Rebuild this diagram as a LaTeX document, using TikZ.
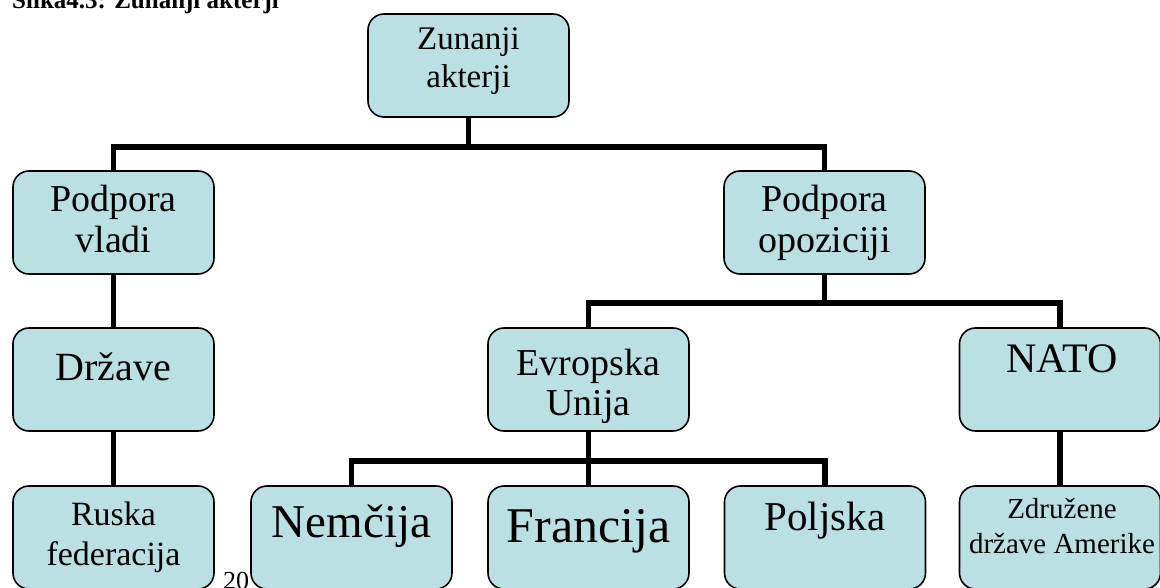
\documentclass[tikz,border=0pt]{standalone}
\usepackage{fontspec}
\setmainfont{Liberation Serif}
\usepackage{tikz}
\usetikzlibrary{positioning, calc}
\usepackage{xcolor}
\definecolor{boxblue}{RGB}{186,224,227}

\begin{document}
\begin{tikzpicture}[x=1pt, y=-1pt,
    box/.style={rectangle, rounded corners=16pt, draw=black, line width=1.6pt, fill=boxblue, minimum width=201pt, minimum height=103pt, inner sep=0pt},
    lbl/.style={anchor=base, align=center, inner sep=0pt},
    link/.style={line width=5.5pt}]
        \useasboundingbox (0,0) rectangle (1160,588);
        \node (cap) [anchor=base west, inner sep=0pt, font=\fontsize{25}{30}\selectfont\bfseries] at (12,9) {Slika4.3: Zunanji akterji};
        \node (pg) [anchor=base, inner sep=0pt, font=\fontsize{26}{30}\selectfont] at (236,589) {20};
        % okvirji
        \node (zun) [box] at (468.5,65.5) {};
        \node (vla) [box] at (113.5,222.5) {};
        \node (opo) [box] at (824.5,222.5) {};
        \node (drz) [box] at (113.5,379.5) {};
        \node (eu) [box] at (588.5,379.5) {};
        \node (nato) [box] at (1060,379.5) {};
        \node (rus) [box] at (113.5,537.5) {};
        \node (nem) [box] at (351.5,537.5) {};
        \node (fra) [box] at (588.5,537.5) {};
        \node (pol) [box] at (825,537.5) {};
        \node (zda) [box] at (1060,537.5) {};
        % povezave
        \draw [link] (zun.south) -- ++(0,29) -| (vla.north);
        \draw [link] (zun.south) -- ++(0,29) -| (opo.north);
        \draw [link] (vla.south) -- (drz.north);
        \draw [link] (drz.south) -- (rus.north);
        \draw [link] (opo.south) -- ++(0,28) -| (eu.north);
        \draw [link] (opo.south) -- ++(0,28) -| (nato.north);
        \draw [link] (eu.south) -- ++(0,29) -| (nem.north);
        \draw [link] (eu.south) -- (fra.north);
        \draw [link] (eu.south) -- ++(0,29) -| (pol.north);
        \draw [link] (nato.south) -- (zda.north);
        % besedila (base = zadnja vrstica)
        \node (zun-t) [lbl, font=\fontsize{33}{38}\selectfont] at (468.5,88) {Zunanji\\akterji};
        \node (vla-t) [lbl, font=\fontsize{38}{41}\selectfont] at (113.5,253) {Podpora\\vladi};
        \node (opo-t) [lbl, font=\fontsize{38}{41}\selectfont] at (824.5,253) {Podpora\\opoziciji};
        \node (drz-t) [lbl, font=\fontsize{40}{44}\selectfont] at (113.5,380) {Države};
        \node (eu-t) [lbl, font=\fontsize{38}{40}\selectfont] at (588.5,415) {Evropska\\Unija};
        \node (nato-t) [lbl, font=\fontsize{42}{46}\selectfont] at (1062,372) {NATO};
        \node (rus-t) [lbl, font=\fontsize{34}{40}\selectfont] at (113.5,565) {Ruska\\federacija};
        \node (nem-t) [lbl, font=\fontsize{47}{52}\selectfont] at (351.5,537) {Nemčija};
        \node (fra-t) [lbl, font=\fontsize{50}{55}\selectfont] at (588.5,542) {Francija};
        \node (pol-t) [lbl, font=\fontsize{41}{45}\selectfont] at (825,530) {Poljska};
        \node (zda-t) [lbl, font=\fontsize{29}{35}\selectfont] at (1062,553) {Združene\\države Amerike};
    \end{tikzpicture}
\end{document}
